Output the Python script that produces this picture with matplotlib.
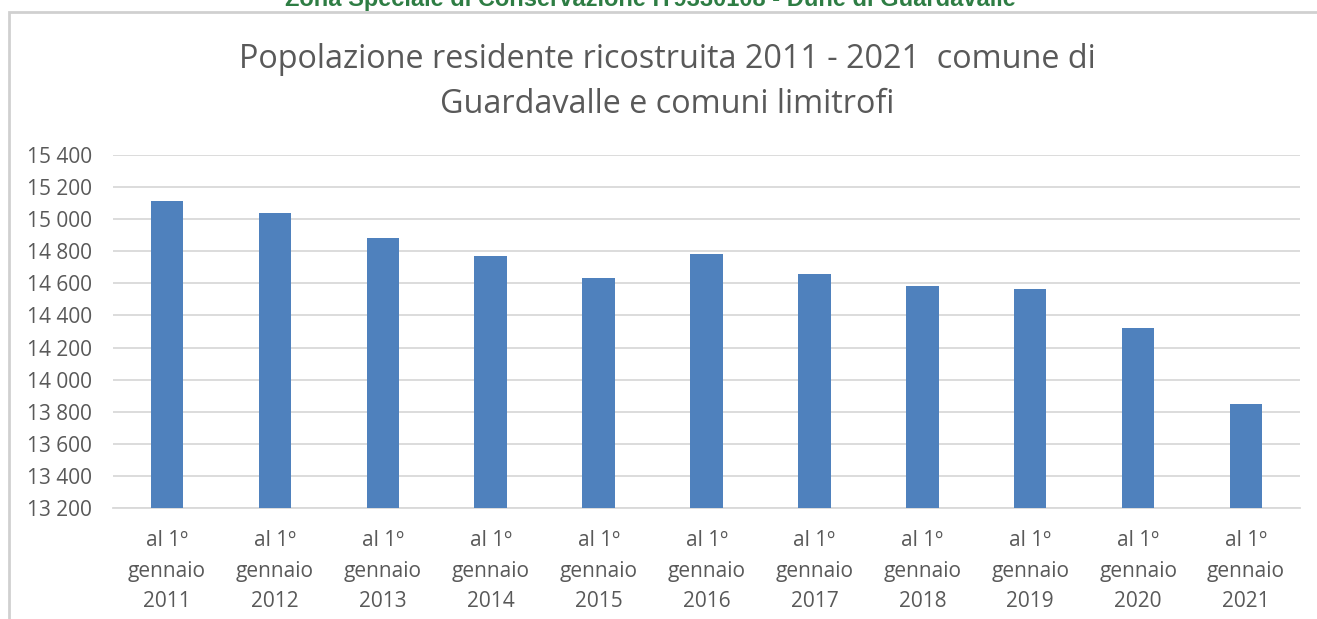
import matplotlib
matplotlib.use("Agg")
import matplotlib.pyplot as plt
from matplotlib.patches import Rectangle
from matplotlib.ticker import FuncFormatter

years = ["2011", "2012", "2013", "2014", "2015", "2016", "2017", "2018", "2019", "2020", "2021"]
categories = ["al 1º\ngennaio\n" + y for y in years]
population = [15112, 15041, 14881, 14770, 14632, 14785, 14657, 14583, 14563, 14321, 13850]
y_ticks = [13200, 13400, 13600, 13800, 14000, 14200, 14400, 14600, 14800, 15000, 15200, 15400]

title = "Popolazione residente ricostruita 2011 - 2021  comune di\nGuardavalle e comuni limitrofi"
header = "Zona Speciale di Conservazione IT9330108 - Dune di Guardavalle"

W, H = 1317, 619
fig = plt.figure(figsize=(W / 100, H / 100), dpi=100)
fig.patch.set_facecolor("white")

font = ["Open Sans", "DejaVu Sans"]
gray = "#595959"

# chart frame border (left and top edges visible)
fig.patches.append(Rectangle((9 / W, -0.1), 1.2, (H - 12) / H + 0.1, transform=fig.transFigure,
                             fill=False, edgecolor="#d0d0d0", linewidth=2, zorder=0))

# cropped green header (cut at the top edge as in the source image)
fig.text(650 / W, 1 - 6 / H, header, ha="center", va="baseline", fontsize=17,
         fontweight="bold", color="#2e7d44", family=["Liberation Sans Narrow", "Liberation Sans", "DejaVu Sans"])

ax = fig.add_axes([113 / W, 1 - 508 / H, (1300 - 113) / W, (508 - 155) / H])
x = list(range(len(categories)))
ax.bar(x, population, width=0.30, color="#4f81bd", zorder=3)
ax.set_xlim(-0.5, len(categories) - 0.5)
ax.set_ylim(13200, 15400)
ax.set_yticks(y_ticks)
ax.yaxis.set_major_formatter(FuncFormatter(lambda v, p: f"{int(v):,}".replace(",", " ")))
ax.set_xticks(x)
ax.set_xticklabels(categories, linespacing=1.6)
ax.grid(axis="y", color="#d9d9d9", linewidth=1.3, zorder=0)
for s in ["top", "right", "left"]:
    ax.spines[s].set_visible(False)
ax.spines["bottom"].set_color("#d9d9d9")
ax.spines["bottom"].set_linewidth(1.3)
ax.tick_params(axis="both", length=0, colors=gray, labelsize=15)
ax.tick_params(axis="y", pad=15)
ax.tick_params(axis="x", pad=16)
for lbl in ax.get_xticklabels() + ax.get_yticklabels():
    lbl.set_family(font)
    lbl.set_color(gray)

fig.text(667 / W, 1 - 82 / H, title, ha="center", va="center", fontsize=23.3,
         color=gray, family=font, linespacing=1.5)

fig.savefig("out.png", dpi=100)
